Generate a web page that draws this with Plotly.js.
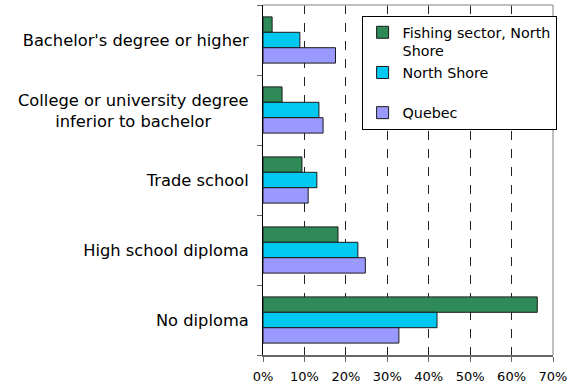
<!DOCTYPE html>
<html>
<head>
<meta charset="utf-8">
<script src="https://cdn.plot.ly/plotly-3.0.1.min.js"></script>
<style>html,body{margin:0;padding:0;background:#fff;}#chart{width:571px;height:387px;}</style>
</head>
<body>
<div id="chart"></div>
<script>
const categories = [
  "Bachelor's degree or higher",
  "College or university degree<br>inferior to bachelor",
  "Trade school",
  "High school diploma",
  "No diploma"
];
const fishingNorthShore = [2.2, 4.6, 9.4, 18.1, 66.2];
const northShore = [8.9, 13.5, 13.0, 22.9, 42.0];
const quebec = [17.5, 14.5, 10.9, 24.7, 32.8];
const seriesNames = ["Fishing sector, North<br>Shore", "North Shore<br> ", "Quebec"];
const seriesColors = ["#2e8b57", "#00c8f0", "#9999ff"];
const xTickVals = [0, 10, 20, 30, 40, 50, 60, 70];
const xTickText = ["0%", "10%", "20%", "30%", "40%", "50%", "60%", "70%"];
// centre-aligned multi-line category label is drawn as an annotation
const centredCategory = 1;
const yTickText = categories.map((c, i) => i === centredCategory ? "" : c);

const fam = "DejaVu Sans, Verdana, sans-serif";
const catSize = 16.3;
const series = [fishingNorthShore, northShore, quebec];
const traces = series.map((vals, i) => ({
  type: "bar",
  orientation: "h",
  y: categories,
  x: vals,
  name: seriesNames[i],
  marker: {color: seriesColors[i], line: {color: "#1a1a1a", width: 1}},
  hoverinfo: "x+name"
}));

const layout = {
  width: 571, height: 387,
  margin: {l: 263, r: 18, t: 5, b: 32},
  paper_bgcolor: "#fff", plot_bgcolor: "#fff",
  font: {family: fam, size: catSize, color: "#000"},
  barmode: "group",
  bargap: 0.34,
  bargroupgap: 0,
  showlegend: true,
  legend: {
    x: 0.34, y: 0.97, xanchor: "left", yanchor: "top",
    bgcolor: "#fff", bordercolor: "#000", borderwidth: 1,
    font: {family: fam, size: 14.3, color: "#000"},
    valign: "top", tracegroupgap: 0, itemwidth: 30
  },
  xaxis: {
    range: [0, 70], tickvals: xTickVals, ticktext: xTickText,
    tickfont: {family: fam, size: 13, color: "#000"},
    showgrid: true, gridcolor: "#222", griddash: "dash", gridwidth: 1,
    zeroline: false, showline: true, linecolor: "#666", linewidth: 1.5,
    ticks: "outside", ticklen: 5, tickcolor: "#666", ticklabelstandoff: 4,
    fixedrange: true
  },
  yaxis: {
    type: "category", autorange: "reversed",
    tickvals: categories, ticktext: yTickText,
    showline: true, linecolor: "#000", linewidth: 1,
    ticks: "outside", tickson: "boundaries", ticklen: 5, tickcolor: "#666",
    ticklabelstandoff: 10,
    showgrid: false, fixedrange: true
  },
  annotations: [{
    xref: "paper", yref: "y", x: 0, y: categories[centredCategory],
    xanchor: "right", yanchor: "middle", xshift: -12, yshift: -1,
    text: categories[centredCategory], align: "center", showarrow: false,
    font: {family: fam, size: catSize, color: "#000"}
  }],
  shapes: [
    {type: "line", xref: "paper", yref: "paper", x0: 0, x1: 1, y0: 1, y1: 1, line: {color: "#aaa", width: 1.5}},
    {type: "line", xref: "paper", yref: "paper", x0: 1, x1: 1, y0: 0, y1: 1, line: {color: "#aaa", width: 1.5}}
  ]
};

Plotly.newPlot("chart", traces, layout, {displayModeBar: false, staticPlot: true});
</script>
</body>
</html>
